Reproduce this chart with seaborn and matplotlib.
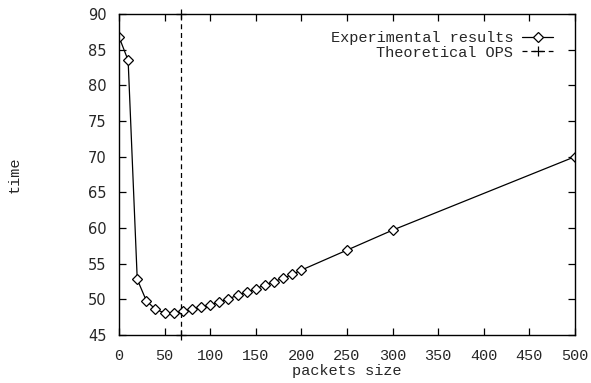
import matplotlib
matplotlib.use("Agg")
import matplotlib.pyplot as plt
import seaborn as sns
import pandas as pd

packet_sizes = [0, 10, 20, 30, 40, 50, 60, 70, 80, 90, 100, 110, 120, 130, 140,
                150, 160, 170, 180, 190, 200, 250, 300, 500]
times = [86.8, 83.5, 52.8, 49.8, 48.6, 48.1, 48.1, 48.4, 48.6, 48.9, 49.25, 49.6,
         50.1, 50.55, 51.0, 51.5, 52.0, 52.5, 52.95, 53.5, 54.1, 56.9, 59.7, 70.0]
ops_x = [68, 68]
ops_y = [45, 90]
xticks = list(range(0, 501, 50))
yticks = list(range(45, 91, 5))

sns.set_style("ticks")
plt.rcParams['font.family'] = ['Liberation Mono', 'DejaVu Sans']

fig = plt.figure(figsize=(5.91, 3.83), dpi=100)
ax = fig.add_axes([119/591, 1-335/383, (575-119)/591, (335-14)/383])

exp = pd.DataFrame({"packets size": packet_sizes, "time": times})
sns.lineplot(data=exp, x="packets size", y="time", ax=ax, color="black",
             linewidth=0.9, marker="D", markersize=5.5, markerfacecolor="white",
             markeredgecolor="black", markeredgewidth=0.9,
             estimator=None, sort=False, label="Experimental results")
ops = pd.DataFrame({"x": ops_x, "y": ops_y})
sns.lineplot(data=ops, x="x", y="y", ax=ax, color="black", linewidth=0.9,
             marker="+", markersize=7, markeredgewidth=0.9,
             markeredgecolor="black",
             estimator=None, sort=False, label="Theoretical OPS")
ops_line = ax.lines[-1]
ops_line.set_linestyle((0, (4, 3)))
ops_line.set_clip_on(False)

ax.set_xlim(0, 500)
ax.set_ylim(45, 90)
ax.set_xticks(xticks)
ax.set_yticks(yticks)
ax.tick_params(direction="in", top=True, right=True, length=5, width=0.9,
               color="black")
ax.tick_params(axis="x", labelsize=11, pad=10)
for lab in ax.get_yticklabels():
    lab.set_fontfamily("DejaVu Sans")
    lab.set_fontsize(10.5)
ax.tick_params(axis="y", pad=9)
for s in ax.spines.values():
    s.set_linewidth(1.0)
    s.set_color("black")
    s.set_visible(True)

ax.set_xlabel("packets size", fontsize=11, labelpad=1)
ax.set_ylabel("time", fontsize=11, labelpad=0)
ax.yaxis.set_label_coords(-97/456, 0.5)

leg = ax.legend(loc="upper right", markerfirst=False, frameon=False,
                fontsize=11, handlelength=2.0, handletextpad=0.6,
                labelspacing=0.05, borderaxespad=0.6,
                bbox_to_anchor=(0.985, 0.995))
for t in leg.get_texts():
    t.set_ha("right")

fig.savefig("out.png", dpi=100)
